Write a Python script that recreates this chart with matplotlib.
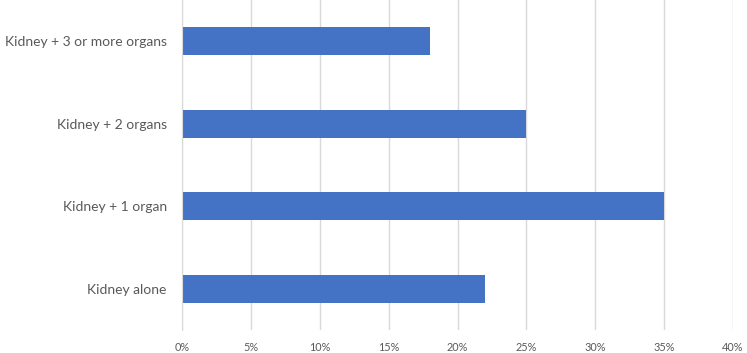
import matplotlib
matplotlib.use("Agg")
import matplotlib.pyplot as plt
from matplotlib.ticker import FuncFormatter

categories = ["Kidney alone", "Kidney + 1 organ", "Kidney + 2 organs", "Kidney + 3 or more organs"]
values = [22, 35, 25, 18]
xticks = [0, 5, 10, 15, 20, 25, 30, 35, 40]

plt.rcParams['font.family'] = ['Lato', 'DejaVu Sans']

fig = plt.figure(figsize=(7.47, 3.53), dpi=100)
ax = fig.add_axes([182/747, 23/353, 551/747, 330/353])

ax.barh(range(len(categories)), values, height=0.34, color="#4472C4", zorder=3)
ax.set_xlim(0, 40)
ax.set_ylim(-0.5, len(categories) - 0.5)
ax.set_xticks(xticks)
ax.xaxis.set_major_formatter(FuncFormatter(lambda v, p: f"{int(v)}%"))
ax.set_yticks(range(len(categories)))
ax.set_yticklabels(categories, fontsize=10, color="#595959")
ax.tick_params(axis='x', labelsize=7.8, colors="#595959", length=0, pad=8.5)
ax.tick_params(axis='y', length=0, pad=11)
ax.grid(axis='x', color="#D9D9D9", linewidth=1, zorder=0)
for s in ["top", "right", "bottom"]:
    ax.spines[s].set_visible(False)
ax.spines["left"].set_color("#D9D9D9")
ax.spines["left"].set_zorder(4)

fig.savefig("out.png", dpi=100)
